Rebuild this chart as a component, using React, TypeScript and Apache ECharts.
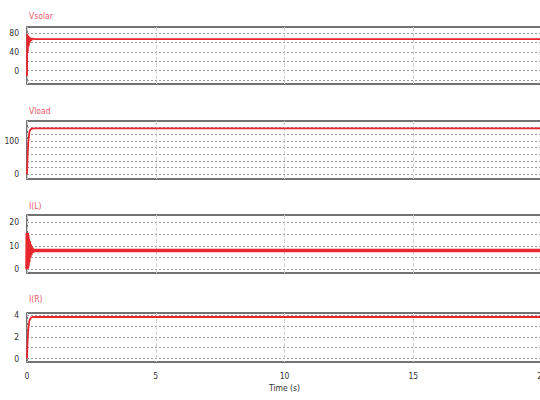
import React, { useEffect, useRef } from "react";
import * as echarts from "echarts";

// Time (s) samples and values for each panel
const vsolarTime = [0, 0.01, 0.03, 0.05, 0.07, 0.09, 0.11, 0.14, 0.17, 0.2, 0.3, 0.5, 20];
const vsolarValues = [-12, 78, 40, 75, 52, 72, 60, 70, 64, 68, 67, 67, 67];

const vloadTime = [0, 0.02, 0.05, 0.08, 0.1, 0.13, 0.16, 0.2, 0.3, 20];
const vloadValues = [0, 50, 95, 118, 128, 133, 135, 136, 137, 137];

const ilTime = [0, 0.01, 0.02, 0.03, 0.04, 0.05, 0.07, 0.09, 0.11, 0.13, 0.15, 0.17, 0.19, 0.21, 0.23, 0.26, 20];
const ilValues = [0, 15.5, 0.5, 14.5, 1.5, 13, 3, 12, 5, 10.5, 6, 9.5, 7, 8.8, 7.4, 8, 8];

const irTime = [0, 0.02, 0.05, 0.08, 0.1, 0.13, 0.16, 0.2, 0.3, 20];
const irValues = [0, 1.5, 2.7, 3.3, 3.55, 3.7, 3.78, 3.82, 3.84, 3.84];

const titles = ["Vsolar", "Vload", "I(L)", "I(R)"];
const xTicks = [0, 5, 10, 15, 20];

const yRanges = [
  [-28.5, 93],
  [-14, 159],
  [-1.6, 23.1],
  [-0.32, 4.21],
];
const yGridValues = [
  [-20, 0, 20, 40, 60, 80],
  [0, 20, 40, 60, 80, 100, 120, 140],
  [0, 5, 10, 15, 20],
  [0, 1, 2, 3, 4],
];
const yLabelValues = [
  [0, 40, 80],
  [0, 100],
  [0, 10, 20],
  [0, 2, 4],
];

const gridTops = [27, 121, 215, 313];
const gridHeights = [57, 58, 58, 49];
const titleTops = [6, 101, 196, 289];

const pair = (t: number[], v: number[]) => t.map((x, i) => [x, v[i]]);

export default function App() {
  const ref = useRef<HTMLDivElement>(null);
  useEffect(() => {
    if (!ref.current) return;
    const chart = echarts.init(ref.current, undefined, { renderer: "svg" });
    const font = "'DejaVu Sans Condensed', 'Liberation Sans Narrow', 'Liberation Sans', Arial, sans-serif";
    const seriesData = [
      pair(vsolarTime, vsolarValues),
      pair(vloadTime, vloadValues),
      pair(ilTime, ilValues),
      pair(irTime, irValues),
    ];
    const lineWidths = [1.8, 1.8, 3.5, 1.8];
    chart.setOption({
      animation: false,
      title: titles.map((t, i) => ({
        text: t,
        left: 24,
        top: titleTops[i],
        textStyle: { color: "#e8576a", fontSize: 8.5, fontWeight: "normal", fontFamily: font },
      })),
      grid: gridTops.map((top, i) => ({
        left: 27,
        right: -2,
        top,
        height: gridHeights[i],
        show: true,
        borderColor: "#444",
        borderWidth: 1.5,
        backgroundColor: "transparent",
        outerBoundsMode: "none",
        containLabel: false,
      })),
      xAxis: gridTops.map((_, i) => ({
        type: "value",
        gridIndex: i,
        min: 0,
        max: 20,
        interval: 5,
        axisLine: { show: false },
        axisTick: { show: false },
        axisLabel: {
          show: i === 3,
          color: "#333",
          fontSize: 8.5,
          fontFamily: font,
          margin: 9,
          customValues: xTicks,
          hideOverlap: false,
        },
        splitLine: { show: true, lineStyle: { color: "#cfcfcf", type: [4, 2], width: 1 } },
        name: i === 3 ? "Time (s)" : "",
        nameLocation: "middle",
        nameGap: 21,
        nameTextStyle: { color: "#333", fontSize: 8.5, fontFamily: font },
      })),
      yAxis: gridTops.map((_, i) => ({
        type: "value",
        gridIndex: i,
        min: yRanges[i][0],
        max: yRanges[i][1],
        axisLine: { show: false },
        axisTick: { show: false, customValues: yGridValues[i] },
        axisLabel: {
          color: "#333",
          fontSize: 8.5,
          fontFamily: font,
          margin: 8,
          customValues: yLabelValues[i],
        },
        splitLine: { show: true, lineStyle: { color: "#9a9a9a", type: [2, 2], width: 1 } },
      })),
      series: seriesData.map((d, i) => ({
        type: "line",
        xAxisIndex: i,
        yAxisIndex: i,
        data: d,
        showSymbol: false,
        lineStyle: { color: "#e8262e", width: lineWidths[i] },
        z: 3,
      })),
    });
    return () => chart.dispose();
  }, []);
  return (
    <div
      ref={ref}
      style={{ position: "absolute", left: 0, top: 0, width: 540, height: 400 }}
    />
  );
}
